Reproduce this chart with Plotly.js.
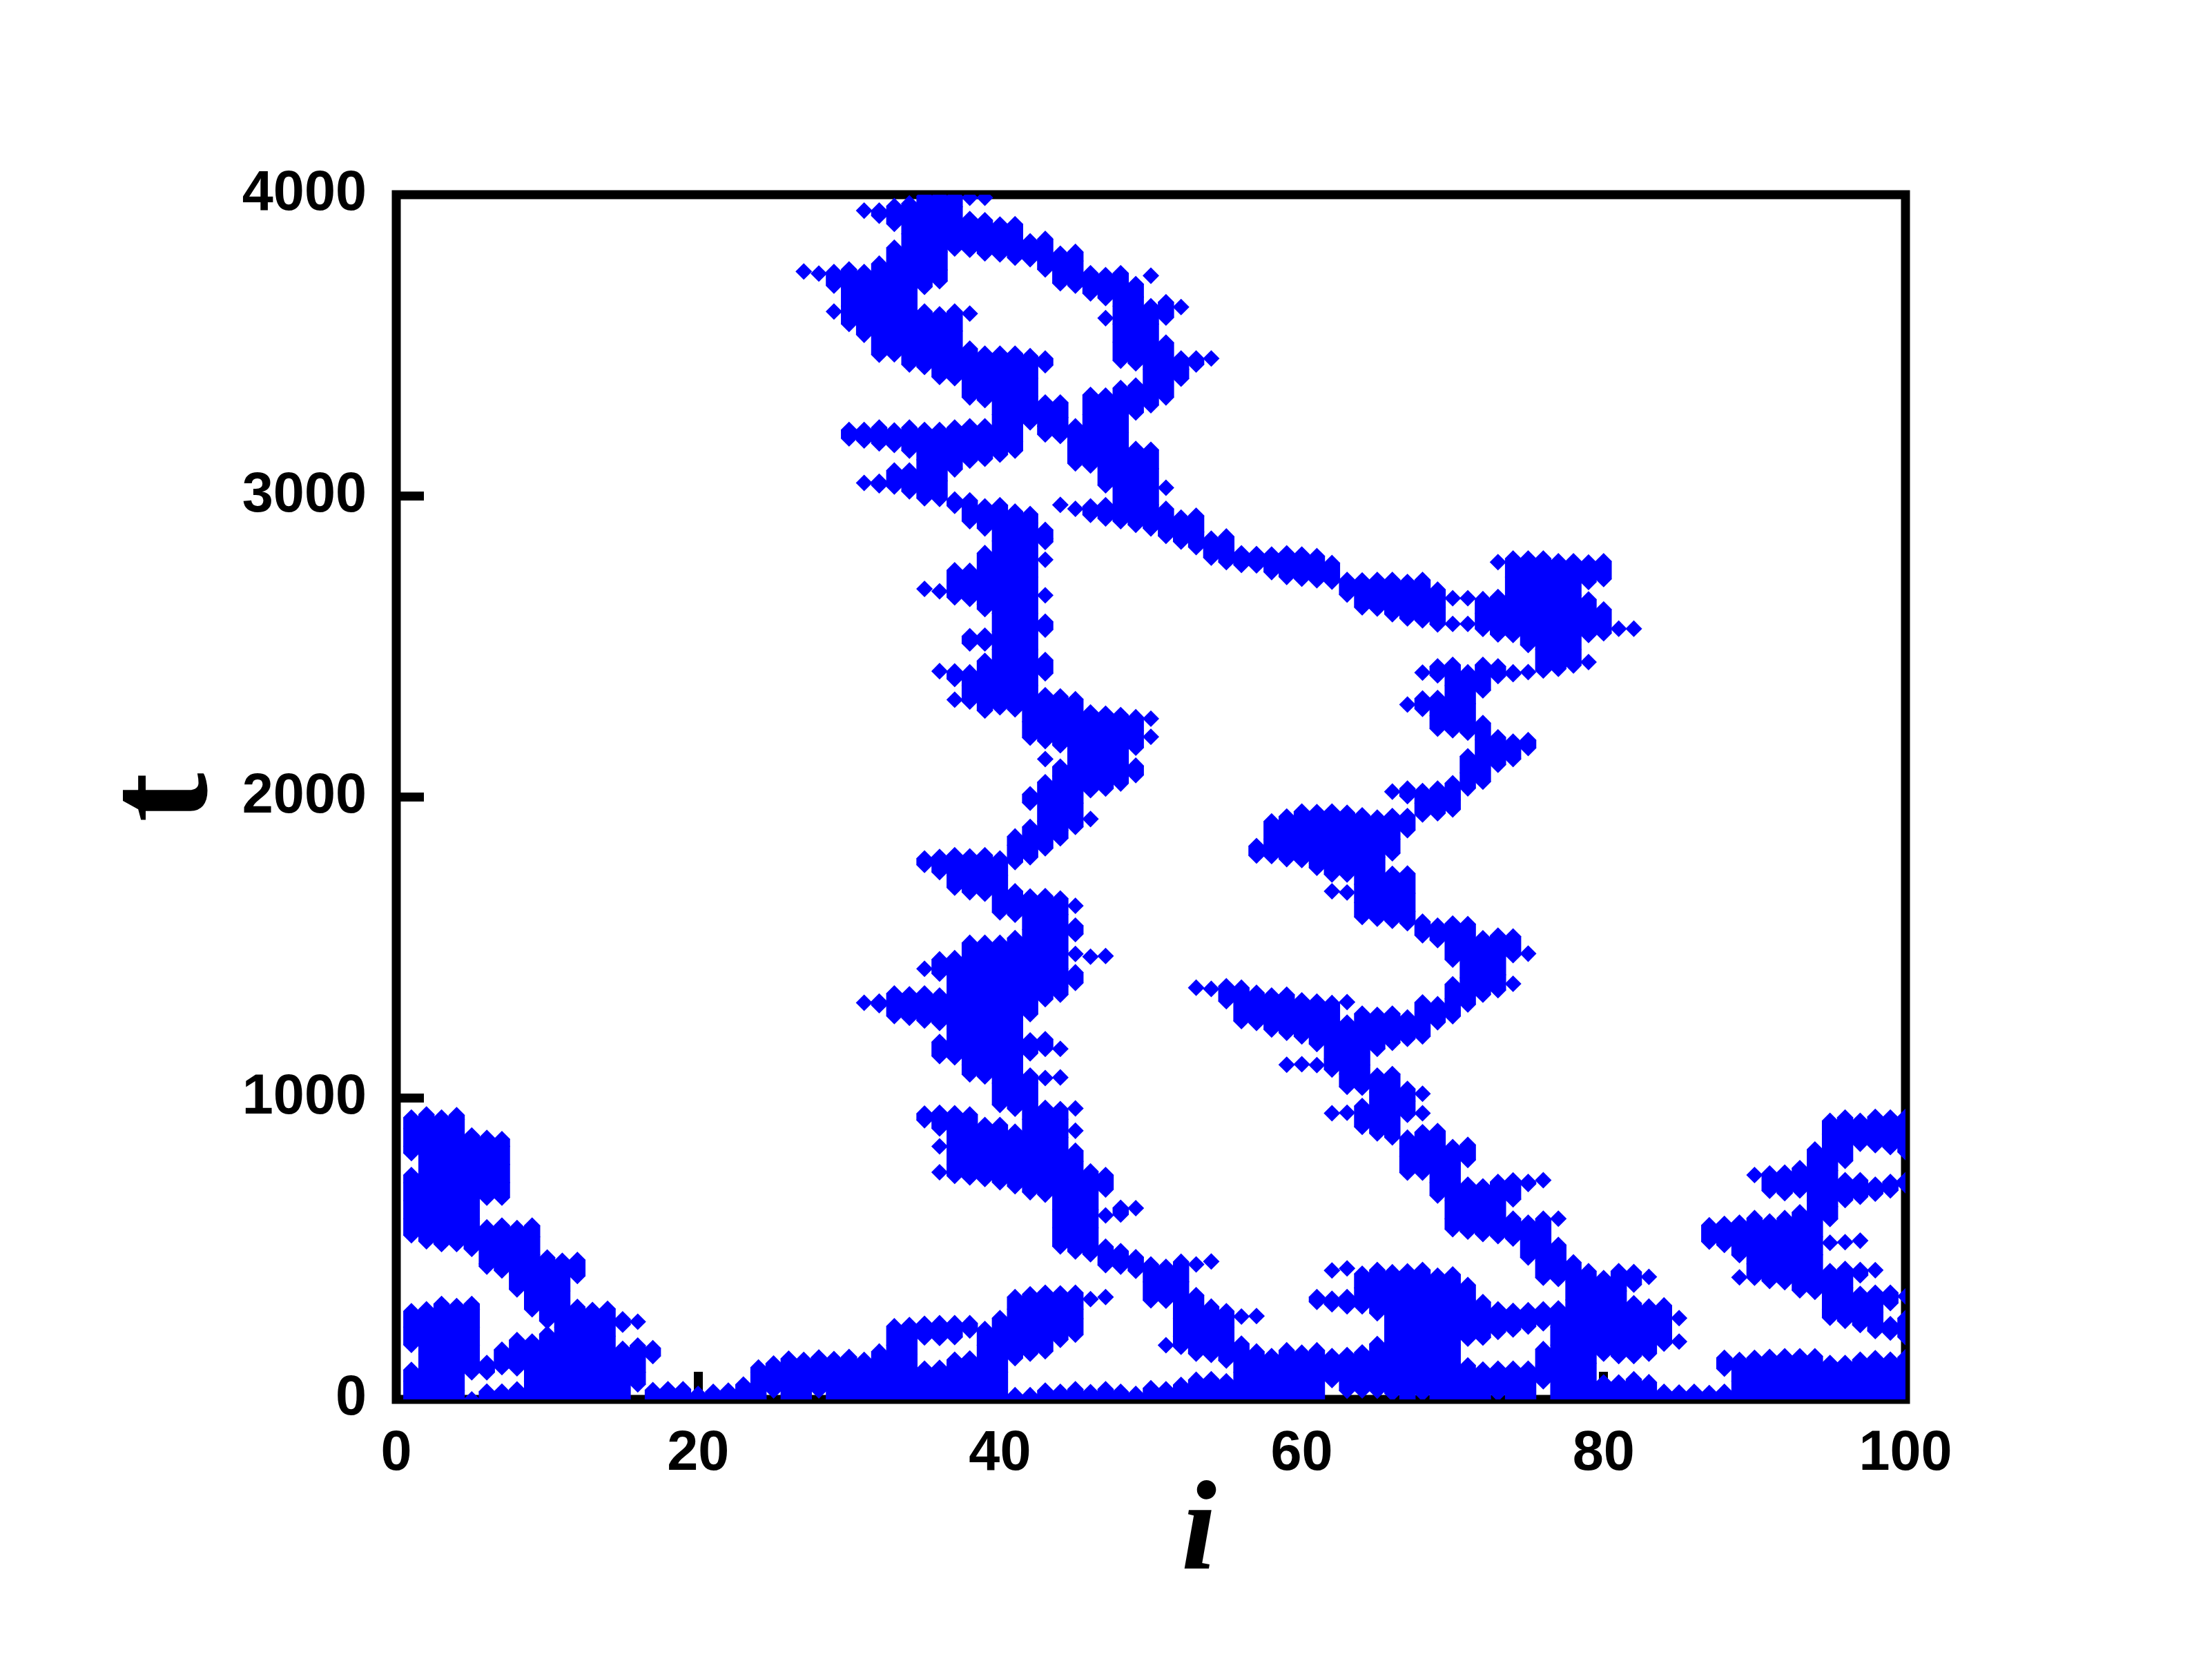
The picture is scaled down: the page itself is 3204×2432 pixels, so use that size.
<!DOCTYPE html>
<html>
<head>
<meta charset="utf-8">
<title>i - t scatter</title>
<script src="https://cdn.plot.ly/plotly-3.0.1.min.js"></script>
<style>
    html, body { margin: 0; padding: 0; background: #ffffff; }
</style>
</head>
<body>
<div id="plot-container" style="width:3204px;height:2432px;"></div>
<script>
// Values: one list of t per site i = 1 ... 100
// null marks a break where the site is not occupied between two runs of t
const sites = [1,2,3,4,5,6,7,8,9,10,11,12,13,14,15,16,17,18,19,20,21,22,23,24,25,26,27,28,29,30,31,32,33,34,35,36,37,38,39,40,41,42,43,44,45,46,47,48,49,50,51,52,53,54,55,56,57,58,59,60,61,62,63,64,65,66,67,68,69,70,71,72,73,74,75,76,77,78,79,80,81,82,83,84,85,86,87,88,89,90,91,92,93,94,95,96,97,98,99,100];

const tAtSite = [
    [936,900,840,818,null,745,720,660,600,545,null,293,240,181,null,98,60,0],
    [946,930,870,810,750,690,630,570,525,null,299,270,210,150,90,30,0],
    [936,900,840,780,720,660,600,540,516,null,317,300,240,180,120,60,0],
    [944,930,870,810,750,690,630,570,516,null,310,270,210,150,90,30,0],
    [876,840,780,720,660,600,540,500,null,317,300,240,180,120,90,null,0],
    [868,810,750,690,670,null,571,510,450,441,null,121,90,null,26,0],
    [864,840,780,720,670,null,577,540,480,428,null,165,120,107,null,26,0],
    [569,510,450,420,365,null,197,150,103,null,33,0],
    [577,540,480,420,360,299,null,192,120,60,0],
    [471,450,390,330,260,null,217,150,90,30,0],
    [460,420,360,300,240,180,120,60,0],
    [463,410,null,307,270,210,150,90,30,0],
    [297,240,180,120,60,0],
    [301,270,210,150,90,30,0],
    [266,248,null,168,120,60,0],
    [258,null,179,150,90,50],
    [170,144,null,31,0],
    [34,0],
    [34,0],
    [18,0],
    [25,0],
    [29,0],
    [49,5],
    [106,90,30,0],
    [119,60,30],
    [135,90,30,0],
    [3745,null,131,60,0],
    [3738,null,139,90,30],
    [3743,3698,null,3612,null,134,60,0],
    [3752,3690,3630,3571,null,3219,3191,null,141,90,30,0],
    [3947,null,3743,3720,3660,3600,3535,null,3219,3184,null,3043,null,1317,null,131,60,0],
    [3947,3930,null,3771,3720,3660,3600,3540,3469,null,3227,3174,null,3047,3035,null,1321,1309,null,159,90,30,0],
    [3962,3903,null,3824,3780,3720,3660,3600,3530,3470,null,3217,3169,null,3084,3031,null,1348,1320,1273,null,243,180,120,60,0],
    [3971,3930,3870,3810,3750,3690,3616,3570,3510,3436,null,3227,3190,3150,null,3084,3015,null,1345,1290,1267,null,247,210,150,90,30,0],
    [3995,3960,3900,3840,3780,3720,3694,null,3612,3540,3480,3428,null,3219,3180,3120,3060,2992,null,2691,null,1796,1775,null,1430,null,1348,1300,1258,null,949,927,null,251,206,null,102,60,0],
    [3995,3930,3870,3810,3750,3713,null,3603,3570,3510,3450,3395,null,3219,3150,3090,3050,2990,null,2683,null,2418,null,1801,1751,null,1461,1414,null,1341,1290,1250,null,1187,1140,null,952,900,null,840,null,754,null,253,204,null,105,90,30,0],
    [3995,3960,3900,3821,null,3612,3547,3487,3420,3391,null,3227,3180,3120,3088,null,2988,2967,null,2753,2700,2663,null,2417,2392,null,2323,null,1807,1740,1699,null,1465,1410,1350,1290,1230,1170,1136,null,950,900,840,780,742,null,253,207,null,132,120,60,0],
    [3990,null,3919,3870,3817,null,3605,null,3489,3450,3390,3327,null,3231,3190,3150,3117,null,2985,2916,null,2751,2700,2658,null,2534,2510,null,2414,2370,2317,null,1803,1740,1684,null,1516,1470,1410,1350,1290,1230,1170,1110,1079,null,946,870,810,737,null,253,229,null,136,90,30,0],
    [3990,null,3915,3860,3805,null,3472,3420,3360,3318,null,3231,3180,3123,null,2965,2892,null,2810,2760,2700,2640,2624,null,2536,2510,null,2452,2400,2340,2287,null,1807,1740,1679,null,1516,1440,1380,1320,1260,1200,1140,1072,null,911,840,780,732,null,234,180,120,60,0],
    [3901,3840,3802,null,3472,3450,3390,3330,3270,3210,3137,null,2969,2910,2850,2790,2730,2670,2610,2550,2490,2430,2370,2298,null,1796,1740,1680,1617,null,1516,1470,1410,1350,1290,1230,1170,1110,1050,978,null,911,870,810,750,721,null,270,210,150,90,30,0],
    [3902,3840,3791,null,3472,3420,3360,3300,3240,3180,3150,null,2948,2880,2820,2760,2700,2640,2580,2520,2460,2400,2340,2291,null,1869,1840,1784,null,1687,1609,null,1532,1500,1440,1380,1320,1260,1200,1140,1080,1020,965,null,889,840,780,708,null,340,300,240,180,137,null,14,0],
    [3845,3786,null,3464,3390,3330,3244,null,2940,2910,2850,2790,2730,2670,2610,2550,2490,2430,2370,2310,2250,2197,null,2009,1981,null,1901,1860,1800,null,1670,1620,1560,1500,1440,1380,1320,1279,null,1192,1149,null,1075,1050,990,930,870,810,750,688,null,349,270,210,152,null,14,0],
    [3853,3780,3752,null,3456,3434,null,3310,3260,3231,3204,null,2887,2858,2847,null,2788,null,2670,null,2582,2556,null,2455,2411,null,2338,2280,2220,2186,null,2126,null,2049,1980,1920,1860,1830,null,1671,1620,1560,1500,1440,1380,1329,null,1196,1164,null,1067,null,968,900,840,780,720,680,null,354,300,240,160,null,29,0],
    [3804,3750,3706,null,3310,3260,3231,3199,null,2970,null,2334,2290,2230,2172,null,2101,2070,2010,1950,1890,1863,null,1663,1610,1550,1490,1430,1370,1344,null,1164,null,1069,null,964,930,870,810,750,690,630,570,508,null,352,290,230,198,null,25,0],
    [3810,3780,3720,3698,null,3231,3178,3108,null,2957,null,2325,2280,2220,2160,2100,2040,1980,1901,null,1639,null,1573,1545,null,1479,null,1418,1383,null,966,null,892,null,826,790,720,660,600,540,491,null,354,300,268,215,null,34,0],
    [3739,3672,null,3335,3270,3210,3150,3101,null,2965,2937,null,2281,2220,2160,2100,2023,null,1927,null,1470,null,757,690,630,570,482,null,333,null,24,0],
    [3733,3657,null,3590,null,3333,3300,3240,3180,3120,3092,3035,null,2969,2925,null,2277,2220,2160,2100,2028,null,1472,null,745,697,null,611,null,507,446,null,340,null,34,0],
    [3739,3690,3630,3570,3510,3449,null,3358,3330,3270,3210,3150,3090,3030,2970,2916,null,2272,2220,2160,2100,2045,null,636,614,null,492,441,null,25,0],
    [3703,3660,3600,3540,3480,3440,null,3366,3300,3277,null,3156,3120,3060,3000,2940,2904,null,2265,2220,2164,null,2104,2073,null,635,null,472,427,null,18,0],
    [3731,null,3630,3570,3510,3450,3420,3360,3301,null,3153,3090,3030,2970,2910,2892,null,2260,null,2200,null,448,390,329,null,37,0],
    [3643,3592,null,3509,3450,3390,3327,null,3027,null,2957,2910,2867,null,440,390,328,null,180,null,34,0],
    [3627,null,3456,3420,3389,null,2928,2880,2848,null,457,390,330,270,210,175,null,48,0],
    [3456,3436,null,2934,2880,2830,null,1367,null,448,null,346,300,240,180,152,null,65,0],
    [3456,null,2858,2795,null,1363,null,458,null,308,270,210,148,null,67,30,0],
    [2865,2820,2780,null,1372,1322,null,293,240,180,129,null,60,0],
    [2809,2771,null,1367,1320,1256,null,275,null,185,150,90,30,0],
    [2807,2769,null,1837,1806,null,1350,1300,1250,null,277,null,159,120,60,0],
    [2805,2770,2747,null,1919,1860,1804,null,1341,1290,1228,null,144,90,30,0],
    [2809,2760,2731,null,1935,1880,1830,1794,null,1344,1300,1217,null,1111,null,163,120,60,0],
    [2805,2750,2725,null,1952,1890,1830,1791,null,1325,1270,1205,null,1113,null,155,90,30,0],
    [2800,2760,2720,null,1950,1900,1840,1780,1765,null,1321,1260,1180,null,1110,null,340,324,null,163,120,60,0],
    [2777,2715,null,1952,1890,1830,1743,null,1687,null,1316,1250,1190,1130,1095,null,950,null,428,null,334,316,null,144,90,64],
    [2721,2672,null,1948,1900,1840,1780,1743,null,1683,null,1319,null,1251,1200,1140,1080,1038,null,952,null,435,null,340,309,null,147,90,29],
    [2719,2670,2630,null,1939,1890,1830,1770,1710,1650,1602,null,1281,1230,1170,1110,1035,null,974,905,null,417,370,309,null,156,90,30],
    [2721,2660,2626,null,1932,1860,1800,1740,1680,1596,null,1277,1220,1164,null,1075,1020,960,883,null,430,360,286,null,184,120,60,29],
    [2721,2670,2607,null,2018,null,1937,1860,1813,null,1745,1680,1589,null,1281,1230,1184,null,1080,1010,950,870,null,422,360,300,247,180,120,60,20],
    [2714,2650,2593,null,2307,null,2028,2003,null,1937,1890,null,1746,1680,1620,1581,null,1268,1197,null,1031,990,945,null,869,832,807,753,null,425,360,300,240,180,120,60,0],
    [2721,2650,2587,null,2413,null,2327,2293,null,2020,1980,1942,null,1586,1541,null,1318,1260,1205,null,1015,null,950,null,887,830,780,753,null,430,370,310,250,190,130,70,20],
    [2689,2630,2573,null,2434,2404,null,2329,2270,2227,null,2028,1980,1946,null,1573,1525,null,1312,1252,null,891,840,780,720,677,null,411,350,290,230,170,110,50,0],
    [2660,null,2575,null,2439,2370,2310,2250,2222,null,2046,1990,1959,null,1580,1530,1460,null,1378,1330,1272,null,838,780,720,660,600,565,null,415,360,300,240,180,120,60,0],
    [2660,null,2575,null,2414,2370,2310,2214,null,2135,2080,2029,null,1578,1520,1460,1400,1340,1311,null,845,795,null,713,660,600,557,null,380,330,270,202,null,113,60,0],
    [2657,2610,2558,null,2439,2354,null,2246,2190,2130,2051,null,1531,1470,1410,1344,null,707,660,600,549,null,323,270,205,null,99,30,0],
    [2780,null,2664,2610,2540,null,2434,2402,null,2198,2150,2107,null,1540,1470,1410,1359,null,722,660,600,542,null,299,224,null,102,60,20],
    [2792,2730,2670,2610,2538,null,2414,2408,null,2184,2126,null,1537,1475,null,1380,null,727,664,null,600,534,null,294,232,null,102,30,0],
    [2792,2730,2670,2610,2550,2505,null,2415,null,2189,2163,null,1480,null,722,715,null,587,530,471,null,296,242,null,102,60,0],
    [2792,2730,2670,2610,2550,2490,2420,null,728,null,600,520,460,404,null,299,253,null,167,110,60],
    [2783,2730,2670,2610,2550,2490,2426,null,600,null,513,450,400,null,302,240,180,120,60,0],
    [2783,2730,2670,2610,2550,2490,2437,null,455,390,330,270,210,150,90,30,0],
    [2779,2714,null,2656,2600,2538,null,2448,null,426,360,300,240,180,120,60,0],
    [2783,2724,null,2623,2544,null,403,330,270,210,152,null,56,20,0],
    [2559,null,426,360,300,240,180,144,null,56,0],
    [2559,null,423,381,null,319,270,210,144,null,67,30,0],
    [407,null,308,240,180,152,null,57,0],
    [312,270,210,185,null,25,0],
    [270,null,192,null,23,0],
    [25,0],
    [578,524,null,21,0],
    [583,540,513,null,138,102,null,25,0],
    [587,540,479,null,405,null,131,60,0],
    [745,null,602,540,480,450,404,null,138,90,30,0],
    [750,693,null,591,540,480,420,393,null,141,60,0],
    [753,685,null,602,570,510,450,389,null,143,90,30,0],
    [768,694,null,621,540,480,420,362,null,143,60,0],
    [830,780,720,660,600,540,480,420,357,null,143,90,30,0],
    [925,880,820,760,700,640,599,null,520,null,426,360,300,271,null,121,60,0],
    [936,870,792,null,728,662,null,522,null,433,370,310,261,null,121,90,30,0],
    [925,880,849,null,728,673,null,527,null,430,412,null,350,300,247,null,132,60,0],
    [938,890,844,null,713,683,null,429,null,354,290,227,null,137,90,30,0],
    [936,880,838,null,722,694,null,354,320,null,250,222,null,132,60,0],
    [938,880,821,null,728,711,null,342,null,270,207,null,140,90,30,0]
];

const xTicks = [0, 20, 40, 60, 80, 100];
const yTicks = [0, 1000, 2000, 3000, 4000];

// Flatten the per-site lists, a null at the end keeps sites from joining up
const pointsI = [];
const pointsT = [];
sites.forEach((site, k) => {
    tAtSite[k].forEach(t => {
        pointsI.push(site);
        pointsT.push(t);
    });
    pointsI.push(site);
    pointsT.push(null);
});

// The original has far more points per site than can be read, the wide line
// stands in for the dense stack of diamonds along each run
const trace = {
    x: pointsI,
    y: pointsT,
    type: 'scatter',
    mode: 'lines+markers',
    connectgaps: false,
    line: { color: '#0000ff', width: 23.5 },
    marker: { symbol: 'diamond', size: 18.5, color: '#0000ff', line: { width: 0 } },
    hoverinfo: 'x+y',
    showlegend: false
};

const tickFont = { family: '"Liberation Sans", Arial, sans-serif', size: 81, color: '#000000', weight: 'bold' };

const layout = {
    width: 3204,
    height: 2432,
    margin: { l: 573.5, r: 444, t: 282, b: 405, pad: 0 },
    paper_bgcolor: '#ffffff',
    // Transparent, otherwise the plot background hides the inner half of the frame
    plot_bgcolor: 'rgba(0,0,0,0)',
    showlegend: false,
    xaxis: {
        range: [0, 100],
        tickmode: 'array',
        tickvals: xTicks,
        ticktext: xTicks.map(String),
        ticks: 'inside',
        ticklen: 40,
        tickwidth: 13,
        tickcolor: '#000000',
        tickfont: tickFont,
        ticklabelstandoff: 20,
        showgrid: false,
        zeroline: false,
        showline: false,
        layer: 'below traces',
        automargin: false
    },
    yaxis: {
        range: [0, 4000],
        tickmode: 'array',
        tickvals: yTicks,
        ticktext: yTicks.map(String),
        ticks: 'inside',
        ticklen: 40,
        tickwidth: 13,
        tickcolor: '#000000',
        tickfont: tickFont,
        ticklabelstandoff: 42,
        ticklabelshift: -6,
        showgrid: false,
        zeroline: false,
        showline: false,
        layer: 'below traces',
        automargin: false
    },
    // Frame sits on the plot edge so the markers can paint over its inner half
    shapes: [{
        type: 'rect',
        xref: 'paper', yref: 'paper',
        x0: 0, x1: 1, y0: 0, y1: 1,
        line: { color: '#000000', width: 13 },
        layer: 'below'
    }],
    annotations: [
        {
            text: 'i',
            xref: 'paper', yref: 'paper',
            x: 0.532, y: -0.105,
            xanchor: 'center', yanchor: 'middle',
            showarrow: false,
            font: { family: '"Liberation Serif", "Times New Roman", serif', size: 184, color: '#000000', weight: 'bold', style: 'italic' }
        },
        {
            text: 't',
            xref: 'paper', yref: 'paper',
            x: -0.159, y: 0.5,
            xanchor: 'center', yanchor: 'middle',
            textangle: -90,
            showarrow: false,
            font: { family: '"Liberation Serif", "Times New Roman", serif', size: 215, color: '#000000', weight: 'bold' }
        }
    ]
};

Plotly.newPlot('plot-container', [trace], layout, { displayModeBar: false, responsive: false });
</script>
</body>
</html>
